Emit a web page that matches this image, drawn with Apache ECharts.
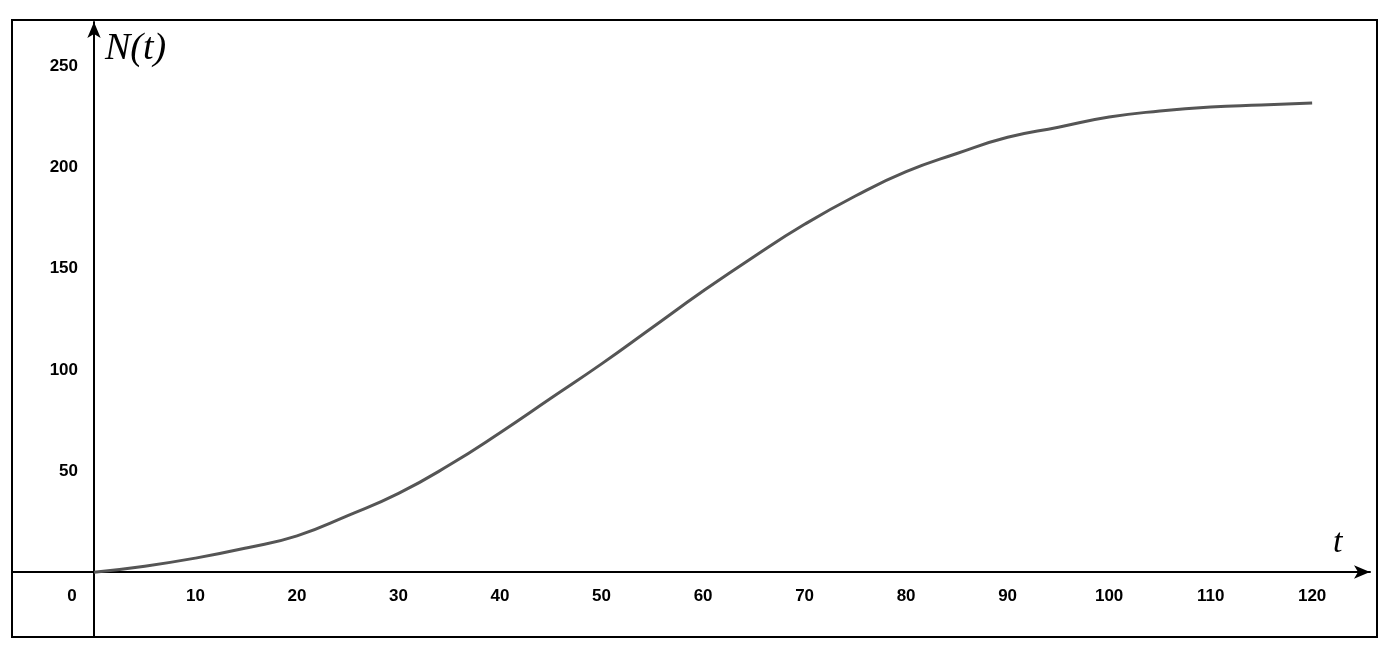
<!DOCTYPE html>
<html><head><meta charset="utf-8">
<script src="https://cdn.jsdelivr.net/npm/echarts@6/dist/echarts.min.js"></script>
<style>html,body{margin:0;padding:0;background:#fff}#c{width:1385px;height:655px}</style>
</head><body><div id="c"></div>
<script>
const tValues = [0,5,10,15,20,25,30,35,40,45,50,55,60,65,70,75,80,85,90,95,100,105,110,115,120];
const nValues = [0,3,7,12,18,28,39,53,69,86,103,121,139,156,172,186,198,207,215,220,225,228,230,231,232];
const xTicks = [0,10,20,30,40,50,60,70,80,90,100,110,120];
const yTicks = [50,100,150,200,250];
const chart = echarts.init(document.getElementById('c'));
const lbl = {fontFamily:'Liberation Sans, Arial', fontWeight:'bold', fontSize:17, color:'#000'};
chart.setOption({
  animation:false,
  grid:{left:12,right:15,top:22,bottom:18,containLabel:false,outerBoundsMode:'none'},
  xAxis:{type:'value',min:-8.08,max:125.7,offset:-65,
    axisLine:{onZero:false,symbol:['none','arrow'],symbolSize:[10,16],lineStyle:{color:'#000',width:2}},
    axisTick:{show:false},splitLine:{show:false},
    axisLabel:Object.assign({customValues:xTicks,margin:16,
      formatter:v=>v===0?'{z|0}':String(v),
      rich:{z:Object.assign({padding:[0,44,0,0]},lbl)}},lbl)},
  yAxis:{type:'value',min:-32,max:272,offset:-82,
    axisLine:{onZero:false,symbol:['none','arrow'],symbolSize:[10,16],lineStyle:{color:'#000',width:2}},
    axisTick:{show:false},splitLine:{show:false},
    axisLabel:Object.assign({customValues:yTicks,margin:16},lbl)},
  series:[{type:'line',data:tValues.map((t,i)=>[t,nValues[i]]),smooth:true,showSymbol:false,
    lineStyle:{color:'#555',width:3}}],
  graphic:[
    {type:'rect',shape:{x:12,y:20,width:1365,height:617},style:{fill:'none',stroke:'#000',lineWidth:2}},
    {type:'text',left:105,top:30,style:{text:'N(t)',font:'italic 38px "Liberation Serif", serif',fill:'#000'}},
    {type:'text',left:1333,top:526,style:{text:'t',font:'italic 34px "Liberation Serif", serif',fill:'#000'}}
  ]
});
</script></body></html>
